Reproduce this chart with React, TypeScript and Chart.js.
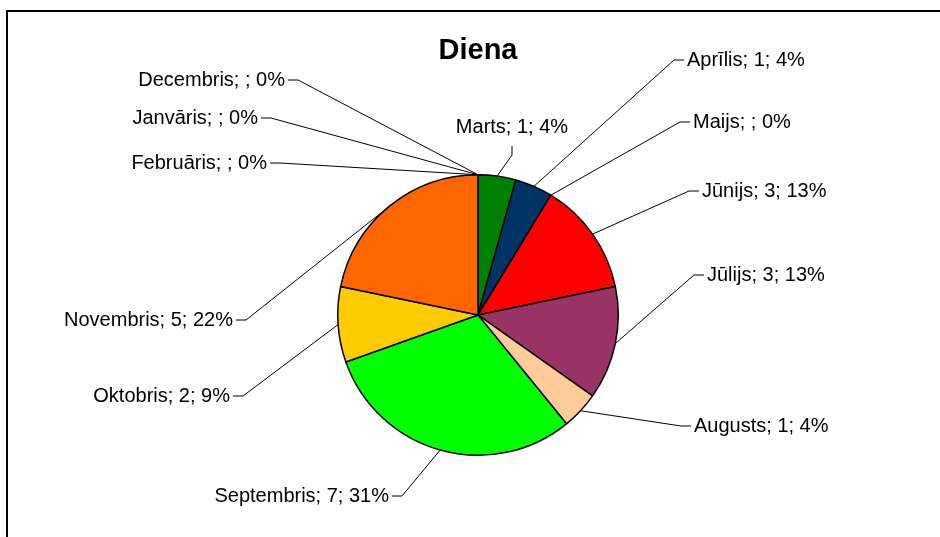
import React, { useEffect, useRef } from "react";
import { Chart, registerables } from "chart.js";

Chart.register(...registerables);

const title = "Diena";
const categories = [
  "Janvāris", "Februāris", "Marts", "Aprīlis", "Maijs", "Jūnijs",
  "Jūlijs", "Augusts", "Septembris", "Oktobris", "Novembris", "Decembris",
];
const values: (number | null)[] = [null, null, 1, 1, null, 3, 3, 1, 7, 2, 5, null];
const percentLabels = ["0%", "0%", "4%", "4%", "0%", "13%", "13%", "4%", "31%", "9%", "22%", "0%"];
const colors = [
  "#9999FF", "#993366", "#008000", "#003366", "#FFFFCC", "#FF0000",
  "#993366", "#FFCC99", "#00FF00", "#FFCC00", "#FF6600", "#CCFFFF",
];

// label placement (layout): side, text edge offset from pie centre (px)
const labelLayout = [
  { side: "left", dx: -220, dy: -197 },
  { side: "left", dx: -211, dy: -152 },
  { side: "top", dx: 34, dy: -188 },
  { side: "right", dx: 209, dy: -255 },
  { side: "right", dx: 215, dy: -193 },
  { side: "right", dx: 224, dy: -124 },
  { side: "right", dx: 229, dy: -40 },
  { side: "right", dx: 216, dy: 111 },
  { side: "left", dx: -89, dy: 181 },
  { side: "left", dx: -248, dy: 81 },
  { side: "left", dx: -245, dy: 5 },
  { side: "left", dx: -193, dy: -235 },
];

const FONT = '"Liberation Sans", Arial, sans-serif';

const labelPlugin = {
  id: "excelLabels",
  afterDatasetsDraw(chart: any) {
    const ctx = chart.ctx;
    const meta = chart.getDatasetMeta(0);
    ctx.save();
    // frame
    ctx.strokeStyle = "#000";
    ctx.lineWidth = 2;
    ctx.strokeRect(7, 11, 1200, 1200);
    meta.data.forEach((arc: any, i: number) => {
      const { x, y, startAngle, endAngle, outerRadius } = arc.getProps(
        ["x", "y", "startAngle", "endAngle", "outerRadius"], true);
      const mid = (startAngle + endAngle) / 2;
      const ex = x + Math.cos(mid) * outerRadius;
      const ey = y + Math.sin(mid) * outerRadius;
      const lay = labelLayout[i];
      const v = values[i];
      const text = `${categories[i]}; ${v == null ? "" : v}; ${percentLabels[i]}`;
      const tx = x + lay.dx;
      const ty = y + lay.dy;
      ctx.font = `20px ${FONT}`;
      ctx.fillStyle = "#000";
      ctx.textBaseline = "middle";
      ctx.strokeStyle = "#000";
      ctx.lineWidth = 1;
      ctx.beginPath();
      if (lay.side === "right") {
        ctx.moveTo(tx - 3, ty);
        ctx.lineTo(tx - 13, ty);
        ctx.lineTo(ex, ey);
        ctx.textAlign = "left";
      } else if (lay.side === "left") {
        ctx.moveTo(tx + 3, ty);
        ctx.lineTo(tx + 13, ty);
        ctx.lineTo(ex, ey);
        ctx.textAlign = "right";
      } else {
        ctx.moveTo(tx, ty + 19);
        ctx.lineTo(tx, ty + 28);
        ctx.lineTo(ex, ey);
        ctx.textAlign = "center";
      }
      ctx.stroke();
      ctx.fillText(text, tx, ty);
    });
    // title
    ctx.font = `bold 29px ${FONT}`;
    ctx.textAlign = "center";
    ctx.textBaseline = "alphabetic";
    ctx.fillText(title, meta.data[0].x, 59);
    ctx.restore();
  },
};

export default function App() {
  const ref = useRef<HTMLCanvasElement>(null);
  useEffect(() => {
    if (!ref.current) return;
    const chart = new Chart(ref.current, {
      type: "pie",
      data: {
        labels: categories,
        datasets: [
          {
            data: values.map((v) => (v == null ? 0 : v)),
            backgroundColor: colors,
            borderColor: "#000",
            borderWidth: 1.5,
          },
        ],
      },
      options: {
        responsive: false,
        animation: false,
        layout: { padding: { left: 337, right: 321, top: 174, bottom: 81 } },
        plugins: {
          legend: { display: false },
          tooltip: { enabled: false },
          title: { display: false },
        },
      },
      plugins: [labelPlugin],
    });
    return () => chart.destroy();
  }, []);
  return (
    <div style={{ position: "absolute", left: 0, top: 0, width: 940, height: 537, background: "#fff" }}>
      <canvas ref={ref} width={940} height={537} style={{ display: "block" }} />
    </div>
  );
}
